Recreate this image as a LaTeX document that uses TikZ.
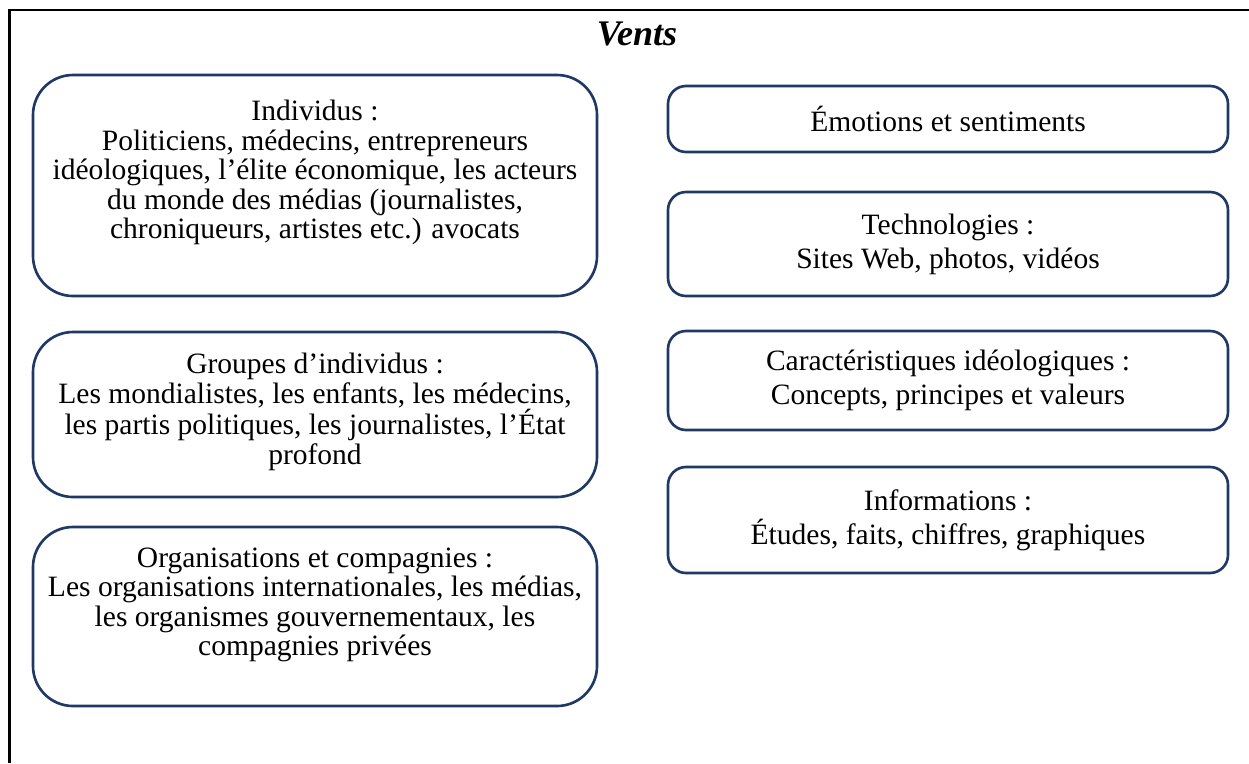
\documentclass[tikz,border=0pt]{standalone}
\usepackage{fontspec}
\setmainfont{Liberation Serif}
\usepackage{tikz}
\definecolor{boxblue}{RGB}{31, 56, 100}
\definecolor{darktext}{RGB}{0, 0, 0}

\begin{document}
\begin{tikzpicture}[
		leftbox/.style={draw=boxblue, line width=1.5pt, rounded corners=0.8cm, minimum width=11.28cm},
		rightbox/.style={draw=boxblue, line width=1.5pt, rounded corners=0.36cm, minimum width=11.2cm, align=center, text=darktext, font=\fontsize{16.8}{19.3}\selectfont},
		boxtext/.style={align=center, text=darktext, font=\fontsize{16.8}{16.8}\selectfont}]
					\useasboundingbox (0,0) rectangle (24.98,-15.26);
					% cadre
					\draw[line width=1.6pt] (0.19,-15.26) -- (0.19,-0.2) -- (24.98,-0.2);
					\node[text=darktext, font=\fontsize{20.5}{24}\selectfont\bfseries\itshape] (vents) at (12.74,-0.68) {Vents};
					% colonne gauche
					\node[leftbox, minimum height=4.42cm] (indiv) at (6.3,-3.71) {};
					\node[boxtext] (indiv-t) at ([yshift=0.26cm]indiv.center) {Individus :\\Politiciens, médecins, entrepreneurs\\idéologiques, l’élite économique, les acteurs\\du monde des médias (journalistes,\\chroniqueurs, artistes etc.) avocats};
					\node[leftbox, minimum height=3.3cm] (groupes) at (6.3,-8.29) {};
					\node[boxtext] (groupes-t) at ([yshift=0.05cm]groupes.center) {Groupes d’individus :\\Les mondialistes, les enfants, les médecins,\\les partis politiques, les journalistes, l’État\\profond};
					\node[leftbox, minimum height=3.58cm] (orgs) at (6.3,-12.33) {};
					\node[boxtext] (orgs-t) at ([yshift=0.23cm]orgs.center) {Organisations et compagnies :\\Les organisations internationales, les médias,\\les organismes gouvernementaux, les\\compagnies privées};
					% colonne droite
					\node[rightbox, minimum height=1.32cm] (emotions) at (18.96,-2.38) {Émotions et sentiments};
					\node[rightbox, minimum height=2.08cm] (techno) at (18.96,-4.88) {Technologies :\\Sites Web, photos, vidéos};
					\node[rightbox, minimum height=1.98cm] (caract) at (18.96,-7.61) {Caractéristiques idéologiques :\\Concepts, principes et valeurs};
					\node[rightbox, minimum height=2.12cm] (infos) at (18.96,-10.4) {Informations :\\Études, faits, chiffres, graphiques};
				\end{tikzpicture}
\end{document}
